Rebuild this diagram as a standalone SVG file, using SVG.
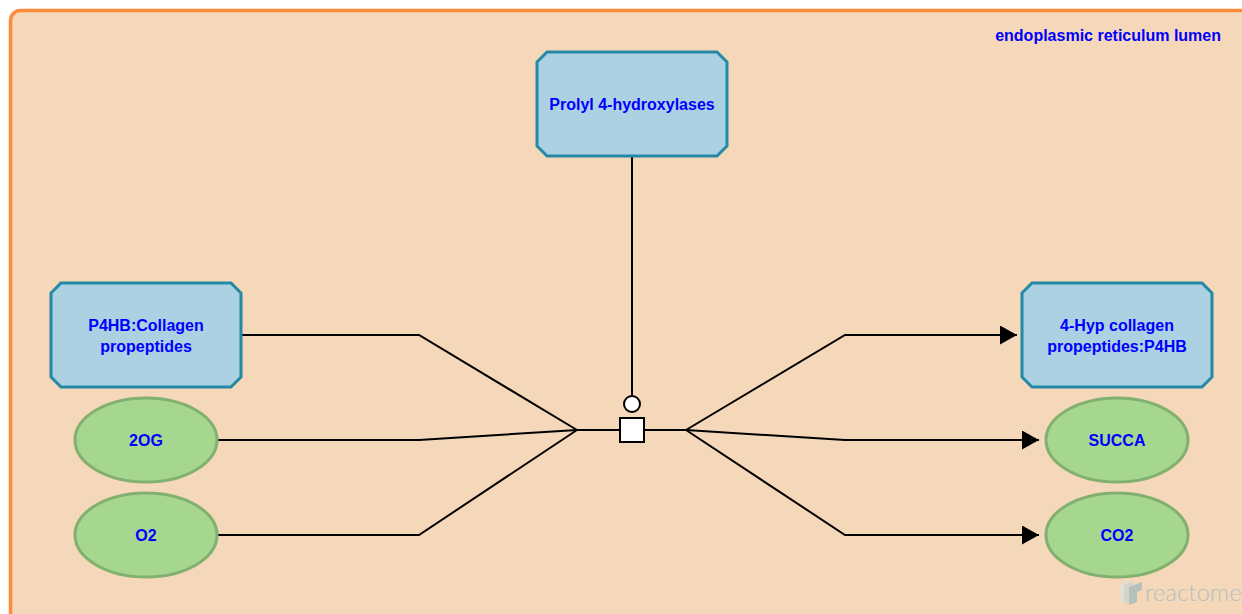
<svg xmlns="http://www.w3.org/2000/svg" width="1242" height="614" viewBox="0 0 1242 614">
<style>
.comp{fill:#F5D7B9;stroke:#FF8A3A;stroke-width:3.5}
.cx{fill:#ABD1E3;stroke:#2489A6;stroke-width:3}
.ch{fill:#A6D78F;stroke:#82B070;stroke-width:3}
.lbl{font-family:"Liberation Sans",Arial,sans-serif;font-weight:bold;font-size:16px;fill:#0000FF;text-anchor:middle}
.clbl{font-family:"Liberation Sans",Arial,sans-serif;font-weight:bold;font-size:16px;fill:#0000FF;text-anchor:end}
.ln{fill:none;stroke:#000;stroke-width:2}
</style>
<defs>
<marker id="arr" markerUnits="userSpaceOnUse" markerWidth="20" markerHeight="20" refX="17" refY="9.5" orient="auto"><path d="M0,0 L17,9.5 L0,19 Z" fill="#000"/></marker>
</defs>
<rect width="1242" height="614" fill="#FFFFFF"/>
<g id="compartment">
<rect class="comp" x="10.5" y="10.5" width="1250" height="620" rx="10" ry="10"/>
<text class="clbl" x="1221" y="41">endoplasmic reticulum lumen</text>
</g>
<g id="connectors">
<path class="ln" d="M241,335 L419,335 L577,430"/>
<path class="ln" d="M217,440 L419,440 L577,430"/>
<path class="ln" d="M217,535 L419,535 L577,430"/>
<path class="ln" d="M577,430 L620,430"/>
<path class="ln" d="M644,430 L686,430"/>
<path class="ln" d="M686,430 L845,335 L1017,335" marker-end="url(#arr)"/>
<path class="ln" d="M686,430 L845,440 L1039,440" marker-end="url(#arr)"/>
<path class="ln" d="M686,430 L845,535 L1039,535" marker-end="url(#arr)"/>
<path class="ln" d="M632,157 L632,396"/>
<circle cx="632" cy="404" r="8" fill="#FFF" stroke="#000" stroke-width="2"/>
<rect x="620" y="418" width="24" height="24" fill="#FFF" stroke="#000" stroke-width="2"/>
</g>
<g id="prolyl">
<path class="cx" d="M547,52 L717,52 L727,62 L727,146 L717,156 L547,156 L537,146 L537,62 Z"/>
<text class="lbl" x="632" y="110">Prolyl 4-hydroxylases</text>
</g>
<g id="p4hb_collagen">
<path class="cx" d="M61,283 L231,283 L241,293 L241,377 L231,387 L61,387 L51,377 L51,293 Z"/>
<text class="lbl" x="146" y="331">P4HB:Collagen</text>
<text class="lbl" x="146" y="352">propeptides</text>
</g>
<g id="n2og">
<ellipse class="ch" cx="146" cy="440" rx="71" ry="42"/>
<text class="lbl" x="146" y="446">2OG</text>
</g>
<g id="o2">
<ellipse class="ch" cx="146" cy="535" rx="71" ry="42"/>
<text class="lbl" x="146" y="541">O2</text>
</g>
<g id="hyp_collagen">
<path class="cx" d="M1032,283 L1202,283 L1212,293 L1212,377 L1202,387 L1032,387 L1022,377 L1022,293 Z"/>
<text class="lbl" x="1117" y="331">4-Hyp collagen</text>
<text class="lbl" x="1117" y="352">propeptides:P4HB</text>
</g>
<g id="succa">
<ellipse class="ch" cx="1117" cy="440" rx="71" ry="42"/>
<text class="lbl" x="1117" y="446">SUCCA</text>
</g>
<g id="co2">
<ellipse class="ch" cx="1117" cy="535" rx="71" ry="42"/>
<text class="lbl" x="1117" y="541">CO2</text>
</g>
<g id="logo" opacity="0.55">
<path d="M1120,584 L1128,580 L1128,600 L1120,603 Z" fill="#D8E6EA"/>
<path d="M1124,585 L1133,581 L1133,601 L1124,604 Z" fill="#B9D2DA"/>
<path d="M1129,587 L1142,582 L1142,590 L1137,592 L1137,602 L1129,605 Z" fill="#7FAFC0"/>
<text x="1145" y="601" font-family="Lato,'Open Sans',sans-serif" font-weight="300" font-size="24" fill="#7FAFC0">reactome</text>
</g>
</svg>
